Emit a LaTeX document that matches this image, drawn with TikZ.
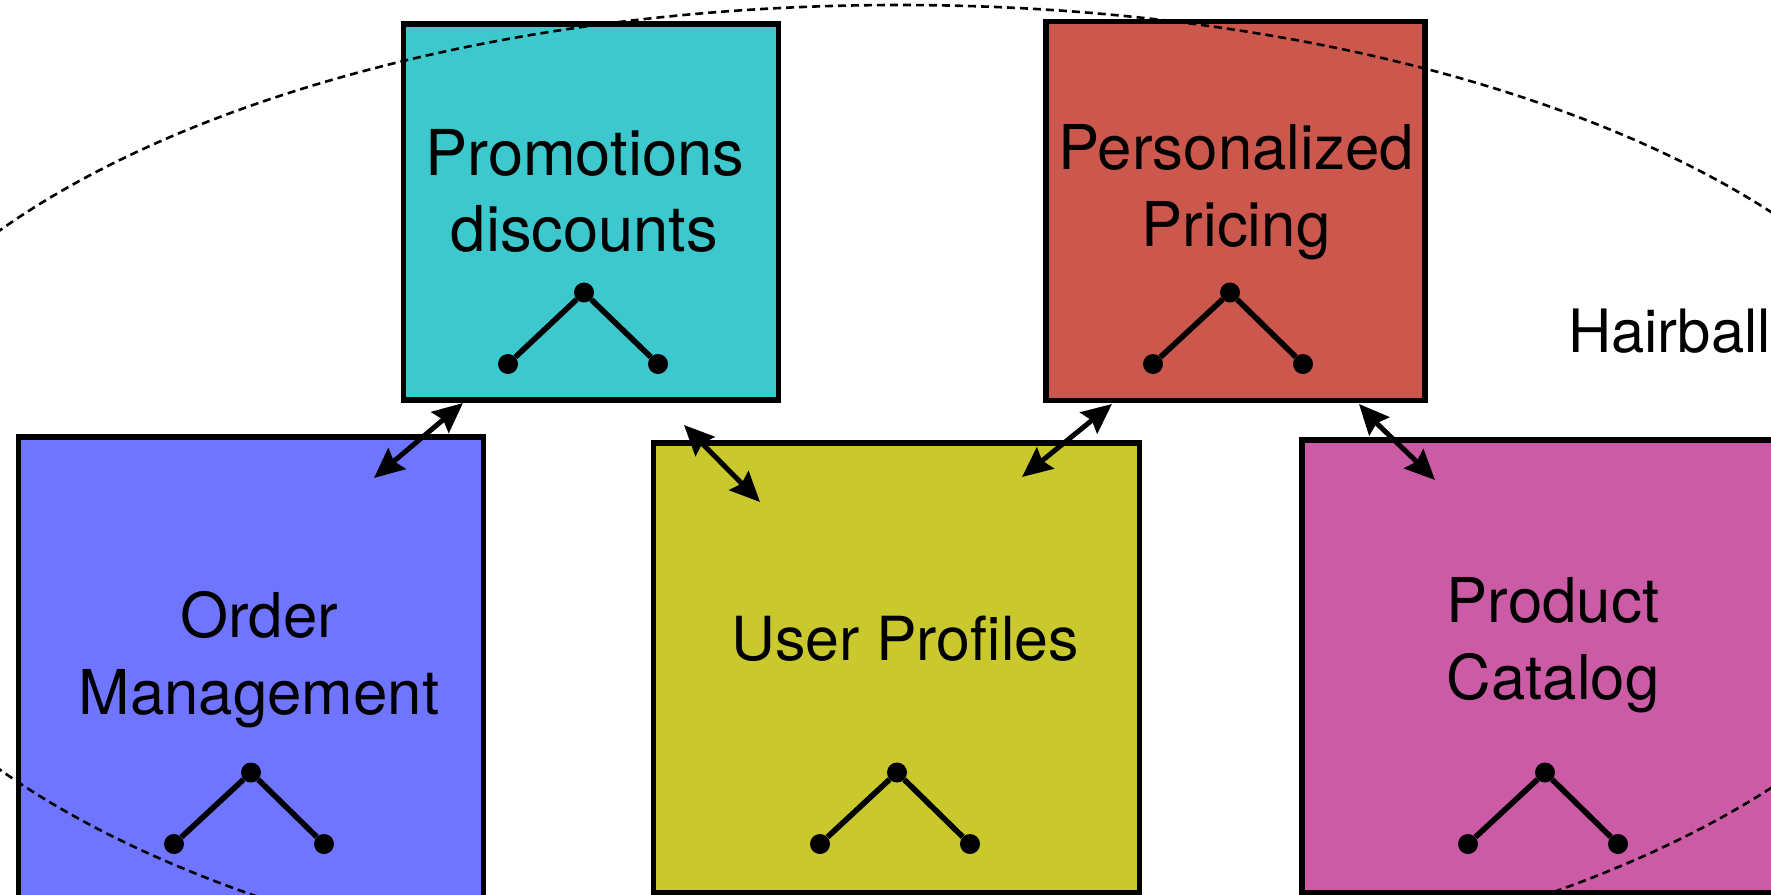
\documentclass[tikz,border=0pt]{standalone}
\usepackage{fontspec}
\setmainfont{TeX Gyre Heros}
\usetikzlibrary{arrows.meta,shapes}
\definecolor{tealbox}{HTML}{3DC8CD}
\definecolor{redbox}{HTML}{CC574D}
\definecolor{bluebox}{HTML}{7075FF}
\definecolor{yellowbox}{HTML}{C9C92E}
\definecolor{pinkbox}{HTML}{CB5BA5}
\tikzset{
  box/.style={draw,rectangle,line width=5.2bp,outer sep=0pt,inner sep=0pt},
  title/.style={align=center,inner sep=0pt,font=\fontsize{62}{77}\selectfont},
  dot/.style={circle,fill=black,inner sep=0pt,minimum size=20bp},
  branch/.style={line width=5.6bp},
  link/.style={{Stealth[length=30bp,width=27bp,inset=4bp]}-{Stealth[length=30bp,width=27bp,inset=4bp]},line width=5bp},
  hair/.style={dashed,dash pattern=on 8bp off 5bp,line width=2.6bp}
}
\begin{document}
\begin{tikzpicture}
\clip (0bp,0bp) rectangle (1771bp,-895bp);
\useasboundingbox (0bp,0bp) rectangle (1771bp,-895bp);
\node (PD) at (591bp,-212bp)[box,fill=tealbox,minimum width=375bp,minimum height=376bp] {};
\node (PP) at (1235.5bp,-211bp)[box,fill=redbox,minimum width=379bp,minimum height=379bp] {};
\node (OM) at (251bp,-674bp)[box,fill=bluebox,minimum width=465bp,minimum height=474bp] {};
\node (UP) at (896.5bp,-668bp)[box,fill=yellowbox,minimum width=486bp,minimum height=450bp] {};
\node (PC) at (1546bp,-666.5bp)[box,fill=pinkbox,minimum width=488bp,minimum height=453bp] {};
% labels
\node (PDt) at (584.5bp,-191bp)[title,font=\fontsize{63.5}{77}\selectfont] {Promotions\\discounts};
\node (PPt) at (1236bp,-192bp)[title] {Personalized\\Pricing};
\node (OMt) at (259bp,-660bp)[title] {Order\\Management};
\node (UPt) at (905bp,-639bp)[title,font=\fontsize{61}{77}\selectfont] {User Profiles};
\node (PCt) at (1553bp,-645bp)[title] {Product\\Catalog};
\node (HB) at (1771bp,-331bp)[title,anchor=east,font=\fontsize{60}{77}\selectfont] {Hairball};
% small trees
\node (PD1) at (584bp,-292.5bp)[dot] {};
\node (PD2) at (508bp,-364bp)[dot] {};
\node (PD3) at (658bp,-364bp)[dot] {};
\draw [branch] (PD2) -- (PD1);
\draw [branch] (PD1) -- (PD3);
\node (PP1) at (1230bp,-292.5bp)[dot] {};
\node (PP2) at (1153bp,-364bp)[dot] {};
\node (PP3) at (1303bp,-364bp)[dot] {};
\draw [branch] (PP2) -- (PP1);
\draw [branch] (PP1) -- (PP3);
\node (OM1) at (251bp,-772.5bp)[dot] {};
\node (OM2) at (174bp,-844bp)[dot] {};
\node (OM3) at (324bp,-844bp)[dot] {};
\draw [branch] (OM2) -- (OM1);
\draw [branch] (OM1) -- (OM3);
\node (UP1) at (897bp,-772.5bp)[dot] {};
\node (UP2) at (820bp,-844bp)[dot] {};
\node (UP3) at (970bp,-844bp)[dot] {};
\draw [branch] (UP2) -- (UP1);
\draw [branch] (UP1) -- (UP3);
\node (PC1) at (1545bp,-772.5bp)[dot] {};
\node (PC2) at (1468bp,-844bp)[dot] {};
\node (PC3) at (1618bp,-844bp)[dot] {};
\draw [branch] (PC2) -- (PC1);
\draw [branch] (PC1) -- (PC3);
% links between the boxes
\coordinate (L1a) at (463bp,-403bp);
\coordinate (L1b) at (374bp,-478bp);
\coordinate (L2a) at (684bp,-425bp);
\coordinate (L2b) at (760bp,-502bp);
\coordinate (L3a) at (1112bp,-404bp);
\coordinate (L3b) at (1022bp,-477bp);
\coordinate (L4a) at (1359bp,-404bp);
\coordinate (L4b) at (1435bp,-480bp);
\draw [link] (L1a) -- (L1b);
\draw [link] (L2a) -- (L2b);
\draw [link] (L3a) -- (L3b);
\draw [link] (L4a) -- (L4b);
% the hairball
\draw [hair] (899bp,-500bp) ellipse (1072bp and 495bp);
\end{tikzpicture}
\end{document}
